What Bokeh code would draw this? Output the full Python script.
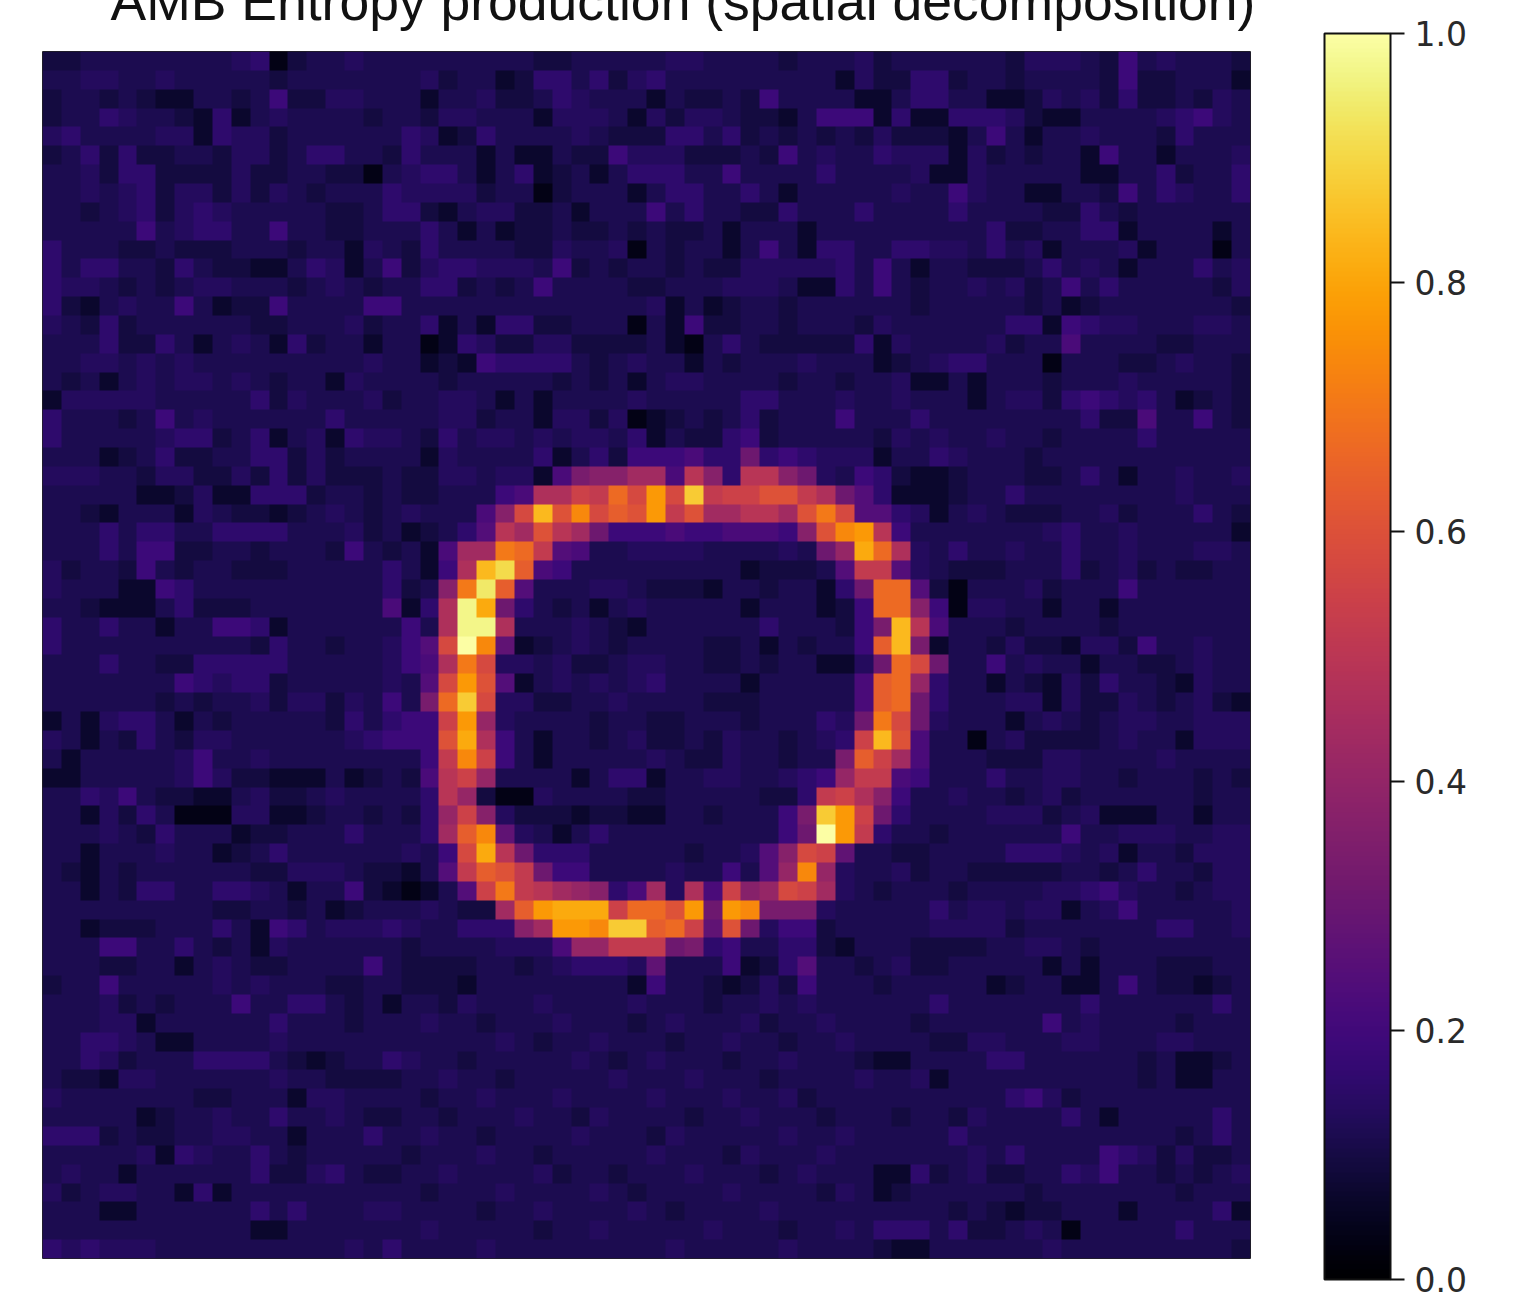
import numpy as np
from bokeh.embed import file_html
from bokeh.models import ColorBar, FixedTicker, LinearColorMapper, NumeralTickFormatter, Title
from bokeh.palettes import Inferno256
from bokeh.plotting import figure
from bokeh.resources import INLINE

TITLE = "AMB Entropy production (spatial decomposition)"
colorbar_ticks = [0.0, 0.2, 0.4, 0.6, 0.8, 1.0]
LEVELS = "0123456789abcdefghijklmnopqrstuvw"  # each character is a reading of a cell
# value of the readings; the dark background readings first, then the ring's
level_values = [0.035, 0.07, 0.095, 0.115, 0.135, 0.16, 0.19, 0.22, 0.245, 0.275, 0.305, 0.335, 0.37, 0.405, 0.435, 0.465, 0.495,
                0.52, 0.55, 0.575, 0.605, 0.64, 0.67, 0.705, 0.74, 0.775, 0.81, 0.84, 0.875, 0.91, 0.94, 0.97, 1.0]

# cell readings, top row first: columns 0-18
cells_left = [
"2233333333450233433","3344334333332333333","2332321133236224433","2335433215134333323",
"4533334415442333333","2352522332442355332","3342552222422332203","3343452442424323335",
"3323452454333332235","3333363455336332233","5333223222333233143","5355332532211354136",
"5443232344333234323","5213433631226333366","4325233333322333423","3335225313431523313",
"3344343433333333343","3231343443432331433","1444443333352433342","5333236343333335333",
"5333334552351341544","3331235223355242333","4443324422425242223","3333311241155523323",
"3321333143221234323","3335355335555333423","3335366223323332632","4233263233222333335",
"4333116533333333335","3321113522233333337","5335331336651333333","5333333333325332334",
"3335332255555333334","3333333654552333334","3333332323342442436","1314553132333332535",
"4313253244333333456","3133333463343333333","1133333464221113123","3354632211342234333",
"3314253000441123323","3334325333122333533","3313334331235333333","3213233333322444322",
"3313255335543133621","3333333332233231233","3312223335316534445","3336633532314333333",
"3332233134322333363","2336333334343332233","3334232333633553231","3334413333335333233",
"3355431133334333333","3354233355553212335","3221443333334332222","4333333322333144333",
"3333312334335334322","5552322334433133353","3333341543353233333","3433133333352245322",
"4234433151333333333","3331133333353533344","3333333333311333333","5454443333333333435",
]
# columns 19-43
cells_middle = [
"3333333223333344333323334","3423312553524533333333314","3133422354333132232633331","3244333144431424432213666",
"5412533334322255352323232","5333131132264442223263433","4553135123135553363333533","4444233023331355335313333",
"5213442231333635332253335","3531312232232322313331333","2533332243340323313631553","2455444362323323224444453",
"3552323633332233344431153","3333333333333413123323333","3513155223330316223323332","3015422442222310353222225",
"3121655553234331323334333","3323333323231344333323323","3344313133334333335533343","3344233144240123235233363",
"3253443434435132256233333","314333351352666755a565444","224434417bccee7gc5ggca436","2233367ffihmjpjshiikkhfa8",
"43337cjrkojlkphkeeggeknj8","12358gekgea6667667776ckop","317eenmh87334444333343adq","316frtl76333333333122238h",
"23cnul833344322213323315a","15fvqa5323134333331333126","63fvvf3334321333333533326","68jwo91234323333223132336",
"67fnj44342234433223233114","38jpk81343434533331333337","3bmsj44223343333222333337","66ipd4333323322333233354a",
"66kqf6313323422324332345i","36hoi631333334322433233bl","27gid333313551334433456dh","35gd200433332233333225hif",
"25dic4222122113323336bspi","35elo9431353333333336awph","436jqga5553333323348cji93","138hlkha663333433638dod43",
"0138inhgedc57e4f7icdjie43","34322elpqqqimmkpapobbb433","433555cepposslmi9ka466233","233334447ddhhhab563355213",
"2222332345554933361258332","2221333333331633212426333","3324333433334333233434333","3433233343332343334233433",
"3333343233433323343323343","4332333334323433323343332","3343323333343334333233334","3233433343333433343342333",
"3323334332433332334333233","3433233334333243333343343","2333433233333433324333433","3343333423323334333234333",
"3233343333432333343333243","3333233433334323333433333","3433333233433333433323343","3333433333333343333343333",
]
# columns 44-63
cells_right = [
"23333332444326343332","22552332333326223331","13553311243425223243","15115554211333345643",
"42221363133433325333","54441423233163313334","33411433333113352335","34336433113326354335",
"33335333322532333333","33333352233551333313","35544353413334133303","63133222353431333534",
"63233434236353333324","33233333231233333332","43333335516544333443","14333342337333322333",
"12345533303332234332","34113133323334333332","34333134425654531232","33533333333522733632",
"24343343323333533333","13354333233333333333","52112333223531334334","51112335333333334333",
"85413432223342333532","g6333333345334333331","mf435334335334333443","h8432223335234232233",
"mm820333423336333333","mmc60443313313333333","brg73332333323333333","lrb13324221442633433",
"amja3363433133223433","lmd53313214253321433","lma53334414224323421","nja43331343234433444",
"rk733034222234331444","ie733322244333343333","h7633353344332333232","c6334332342333333233",
"a5333344423411133133","53323333336334443344","32233335554341332444","34233222223323533244",
"23332333344564332344","33353443441346333334","33344442333333355334","33222233443233333333",
"34223333313133322233","23333312331136322123","33353333333533333353","33233333363433332333",
"33322443334433344333","11333355333333231123","33413333333333231133","33333335642333333333",
"32332433335313333353","33335333333333332353","33333435333365424223","11523422335463323234",
"12333333233333332333","33332321223331333351","55535223430333335333","21133333343333333332",
]

bad = [(i, len(a), len(b), len(c)) for i, (a, b, c) in enumerate(zip(cells_left, cells_middle, cells_right))
       if (len(a), len(b), len(c)) != (19, 25, 20)]
if bad:
    raise SystemExit(f"bad rows: {bad}")

grid = np.array([[level_values[LEVELS.index(ch)] for ch in a + b + c]
                 for a, b, c in zip(cells_left, cells_middle, cells_right)])

# the reference's low end is a little bluer than pure inferno
def tinted(hex_colour, i):
    r, g, b = (int(hex_colour[k:k + 2], 16) for k in (1, 3, 5))
    f = 1 + 0.2 * min(1.0, max(0.0, (80 - i) / 32))
    return f"#{r:02x}{g:02x}{min(255, int(b * f)):02x}"

palette = [tinted(c, i) for i, c in enumerate(Inferno256)]

CANVAS_TOP = -60   # the title's top is cut off by the page edge, as in the reference
W, H = 1513, 1296 - CANVAS_TOP
p = figure(width=W, height=H, x_range=(0, 64), y_range=(0, 64), output_backend="svg",
           toolbar_location=None, x_axis_location=None, y_axis_location=None,
           min_border_left=42, min_border_top=51 - CANVAS_TOP, min_border_right=W - 1250, min_border_bottom=1296 - 1258,
           margin=(CANVAS_TOP, 0, 0, 0), background_fill_color="white", border_fill_color="white")
p.grid.visible = False
p.outline_line_color = "#222222"
p.outline_line_width = 1

mapper = LinearColorMapper(palette=palette, low=0, high=1)
p.image(image=[np.flipud(grid)], x=0, y=0, dw=64, dh=64, color_mapper=mapper)

cb = ColorBar(color_mapper=mapper, location=(1324 - 42, -21), width=66, height=1246, padding=0, margin=0,
              ticker=FixedTicker(ticks=colorbar_ticks), formatter=NumeralTickFormatter(format="0.0"),
              major_label_text_font="DejaVu Sans", major_label_text_font_size="33px",
              major_label_text_color="#2a2a2a", label_standoff=10,
              major_tick_line_color="#111111", major_tick_line_width=2, major_tick_in=0, major_tick_out=14,
              minor_tick_line_color=None, bar_line_color="#111111", bar_line_width=2,
              background_fill_alpha=0, border_line_color=None)
p.add_layout(cb, "center")

title = Title(text=TITLE, text_font="Liberation Sans", text_font_size="53.5px", text_font_style="normal",
              text_color="#111111", align="left", offset=110 - 42, standoff=41)
p.add_layout(title, "above")

open("out.html", "w").write(file_html(p, INLINE))
